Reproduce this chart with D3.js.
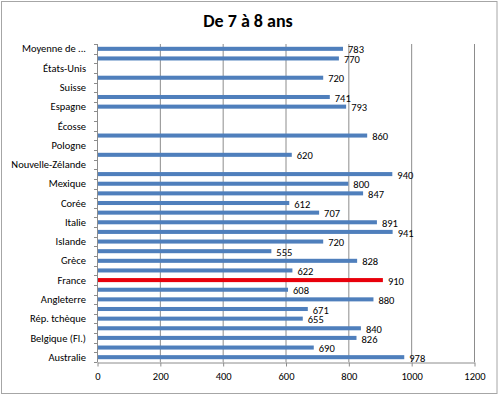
<!DOCTYPE html>
<html>
  <head>
    <meta charset="utf-8">
    <title>De 7 à 8 ans</title>
    <script src="https://d3js.org/d3.v7.min.js"></script>
    <style>
      body { margin: 0; background: #fff; }
      text { font-family: Carlito, Calibri, Lato, sans-serif; fill: #000; }
      .title { font-size: 18px; font-weight: bold; }
      .lbl { font-size: 10.5px; }
    </style>
  </head>
  <body>
    <div id="chart"></div>

    <script>
      // categories from top to bottom (only every other one gets a label, as in Excel)
      const categories = [
        "Moyenne de l'OCDE", "Moyenne de l'UE19", "États-Unis", "Turquie", "Suisse", "Suède",
        "Espagne", "Slovaquie", "Écosse", "Portugal", "Pologne", "Norvège",
        "Nouvelle-Zélande", "Pays-Bas", "Mexique", "Luxembourg", "Corée", "Japon",
        "Italie", "Irlande", "Islande", "Hongrie", "Grèce", "Allemagne",
        "France", "Finlande", "Angleterre", "Danemark", "Rép. tchèque", "Belgique (Fr.)",
        "Belgique (Fl.)", "Autriche", "Australie"
      ];
      // hours, null = no data
      const values = [
        783, 770, null, 720, null, 741,
        793, null, null, 860, null, 620,
        null, 940, 800, 847, 612, 707,
        891, 941, 720, 555, 828, 622,
        910, 608, 880, 671, 655, 840,
        826, 690, 978
      ];
      const highlight = "France";
      const xTicks = [0, 200, 400, 600, 800, 1000, 1200];

      const W = 499, H = 396;
      const margin = { top: 44, right: 25, bottom: 34, left: 97 };

      const svg = d3.select("#chart").append("svg")
        .attr("width", W).attr("height", H);

      // chart border
      svg.append("rect")
        .attr("x", 1.5).attr("y", 1.5)
        .attr("width", W - 3.5).attr("height", H - 4)
        .attr("fill", "#fff").attr("stroke", "#a6a6a6");

      svg.append("text")
        .attr("class", "title")
        .attr("x", 248).attr("y", 27)
        .attr("text-anchor", "middle")
        .text("De 7 à 8 ans");

      const x = d3.scaleLinear().domain([0, 1200]).range([margin.left, W - margin.right]);
      const y = d3.scaleBand().domain(categories)
        .range([margin.top, H - margin.bottom])
        .paddingInner(0.58).paddingOuter(0.29);

      const data = categories.map((c, i) => ({ name: c, value: values[i] }));
      const yBottom = H - margin.bottom;

      // gridlines
      svg.append("g").selectAll("line")
        .data(xTicks.slice(1))
        .join("line")
        .attr("x1", d => x(d) + 0.5).attr("x2", d => x(d) + 0.5)
        .attr("y1", margin.top).attr("y2", yBottom)
        .attr("stroke", "#8c8c8c");

      // x axis
      const xAxis = svg.append("g")
        .attr("transform", `translate(0.5,${yBottom + 0.5})`)
        .call(d3.axisBottom(x).tickValues(xTicks).tickFormat(d3.format("d"))
          .tickSize(4).tickPadding(6).tickSizeOuter(0));
      xAxis.select(".domain").attr("stroke", "#8c8c8c");
      xAxis.selectAll(".tick line").attr("stroke", "#8c8c8c");
      xAxis.selectAll("text").attr("class", "lbl").attr("font-size", null).attr("font-family", null);

      // y axis line
      svg.append("line")
        .attr("x1", x(0) + 0.5).attr("x2", x(0) + 0.5)
        .attr("y1", margin.top).attr("y2", yBottom)
        .attr("stroke", "#8c8c8c");

      // category boundary ticks
      const gap = (y.step() - y.bandwidth()) / 2;
      const bounds = categories.map(c => y(c) - gap).concat([y(categories[categories.length - 1]) + y.bandwidth() + gap]);
      svg.append("g").selectAll("line")
        .data(bounds)
        .join("line")
        .attr("x1", x(0) - 3).attr("x2", x(0) + 0.5)
        .attr("y1", d => Math.round(d) + 0.5).attr("y2", d => Math.round(d) + 0.5)
        .attr("stroke", "#8c8c8c");

      // category labels (every other one)
      svg.append("g").selectAll("text")
        .data(data.filter((d, i) => i % 2 === 0))
        .join("text")
        .attr("class", "lbl")
        .attr("x", x(0) - 11)
        .attr("y", d => y(d.name) + y.bandwidth() / 2)
        .attr("dy", "0.35em")
        .attr("text-anchor", "end")
        .text(d => d.name === "Moyenne de l'OCDE" ? "Moyenne de ..." : d.name);

      const withValue = data.filter(d => d.value != null);

      // bars
      svg.append("g").selectAll("rect")
        .data(withValue)
        .join("rect")
        .attr("x", x(0) + 1)
        .attr("y", d => y(d.name))
        .attr("width", d => x(d.value) - x(0) - 1)
        .attr("height", y.bandwidth())
        .attr("fill", d => d.name === highlight ? "#e8000b" : "#4f7fbc");

      // value labels
      svg.append("g").selectAll("text")
        .data(withValue)
        .join("text")
        .attr("class", "lbl")
        .attr("x", d => x(d.value) + 5)
        .attr("y", d => y(d.name) + y.bandwidth() / 2 + 1)
        .attr("dy", "0.35em")
        .text(d => d.value);
    </script>
  </body>
</html>
